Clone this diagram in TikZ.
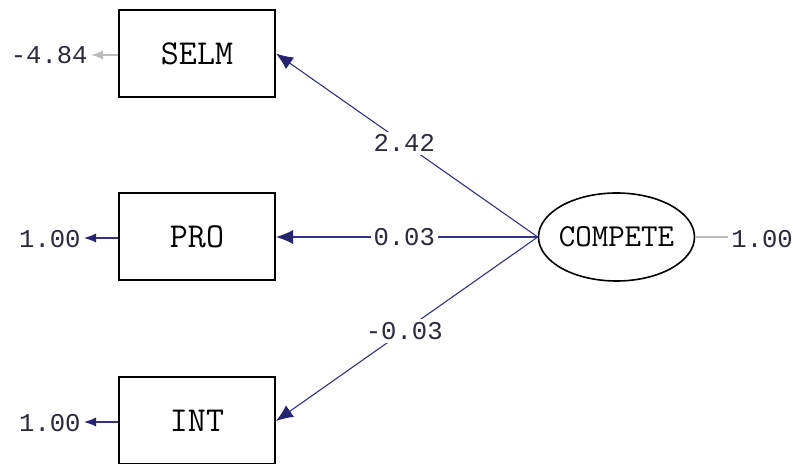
\documentclass[tikz,border=0pt]{standalone}
\usepackage{fontspec}
\newfontfamily\numfont{Liberation Mono}
\usetikzlibrary{arrows.meta,shapes.geometric}
\definecolor{navy}{RGB}{50,50,130}
\definecolor{tipnavy}{RGB}{35,35,110}
\definecolor{lgray}{RGB}{190,190,190}
\definecolor{numcol}{RGB}{45,40,60}
\tikzset{
  obs/.style={draw=black,line width=1pt,minimum width=78pt,minimum height=43.5pt,inner sep=0pt,font=\ttfamily\fontsize{17.5}{17}\selectfont},
  lat/.style={ellipse,draw=black,line width=0.8pt,minimum width=78pt,minimum height=44pt,inner ysep=0pt,inner xsep=-2pt,font=\ttfamily\fontsize{16}{16}\selectfont},
  path/.style={draw=navy,line width=0.55pt,-{Latex[length=8.5pt,width=7pt,color=tipnavy]}},
  errarr/.style={draw=navy,line width=0.6pt,-{Latex[length=6pt,width=4.5pt,color=tipnavy]}},
  errgray/.style={draw=lgray,line width=0.8pt,-{Latex[length=6pt,width=4.5pt,color=lgray]}},
  num/.style={font=\numfont\fontsize{12.8}{13}\selectfont,text=numcol,inner sep=0.5pt},
  lbl/.style={num,fill=white,inner sep=1.5pt}
}
\begin{document}
\begin{tikzpicture}[x=0.5pt,y=-0.5pt]
\useasboundingbox (0,0) rectangle (793,464);
\node[obs] (selm) at (197,53.5) {SELM};
\node[obs] (pro) at (197,237) {PRO};
\node[obs] (int) at (197,421) {INT};
\node[lat] (comp) at (616.5,237) {COMPETE};
% error terms
\coordinate (e1) at (91,55);
\coordinate (e2) at (84,238);
\coordinate (e3) at (84,422);
\coordinate (e4) at (728,237);
\draw[errgray] (selm.west |- e1) -- (e1);
\node[num,anchor=east] (v1) at (89,55) {-4.84};
\draw[errarr] (pro.west |- e2) -- (e2);
\node[num,anchor=east] (v2) at (82,239) {1.00};
\draw[errarr] (int.west |- e3) -- (e3);
\node[num,anchor=east] (v3) at (82,423) {1.00};
\draw[draw=lgray,line width=0.8pt] (comp.east) -- (e4);
\node[num,anchor=west] (v4) at (730,239) {1.00};
% paths
\draw[path] (comp.west) -- node[lbl,pos=0.51] {2.42} (selm.east);
\draw[path] (comp.west) -- node[lbl,pos=0.51] {0.03} (pro.east);
\draw[path] (comp.west) -- node[lbl,pos=0.51] {-0.03} (int.east);
\end{tikzpicture}
\end{document}
